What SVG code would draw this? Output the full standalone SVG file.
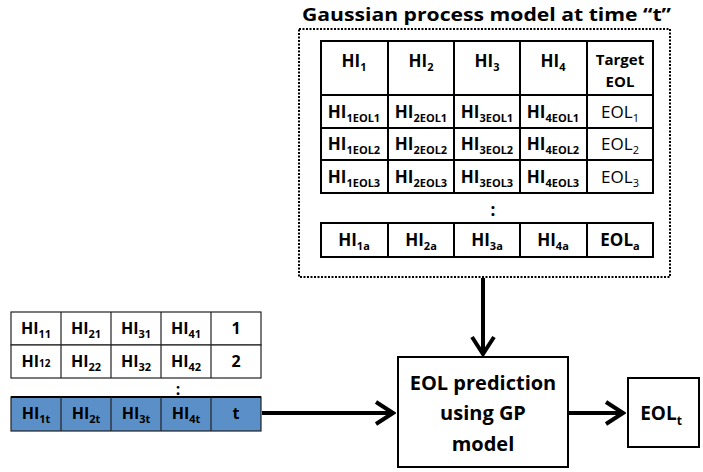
<svg xmlns="http://www.w3.org/2000/svg" width="703" height="472" viewBox="0 0 703 472">
<defs>
<style>
text{font-family:"Open Sans","Liberation Sans",sans-serif;fill:#000}
.b{font-weight:bold}
.c{font-size:17px;text-anchor:middle}
.d{font-size:16px;text-anchor:middle}
.s{font-size:11px}
.tb{fill:#fff;stroke:#000;stroke-width:2}
.ln{stroke:#000;stroke-width:2;fill:none}
.lt{fill:#fff;stroke:#222;stroke-width:1.2}
.bl{fill:#5b8fc7;stroke:#222;stroke-width:1.2}
.ar{stroke:#000;stroke-width:4;fill:none}
</style>
<marker id="ah" markerWidth="22" markerHeight="26" viewBox="0 0 22 26" refX="20" refY="13" orient="auto" markerUnits="userSpaceOnUse">
<path d="M2,2 L19,13 L2,24" fill="none" stroke="#000" stroke-width="4"/>
</marker>
</defs>
<g id="gp-model">
<text class="b" x="302" y="21" font-size="18" textLength="369" lengthAdjust="spacingAndGlyphs">Gaussian process model at time “t”</text>
<rect x="299" y="29" width="371" height="248" fill="none" stroke="#000" stroke-width="2" stroke-dasharray="2,1.5"/>
<rect class="tb" x="321" y="41" width="332" height="152"/>
<path class="ln" d="M321,95H653M321,128H653M321,160H653M388,41V193M454,41V193M520,41V193M587,41V193"/>
<g class="b c">
<text x="354" y="67">HI<tspan class="s" dy="4">1</tspan></text>
<text x="421" y="67">HI<tspan class="s" dy="4">2</tspan></text>
<text x="487" y="67">HI<tspan class="s" dy="4">3</tspan></text>
<text x="553" y="67">HI<tspan class="s" dy="4">4</tspan></text>
<text x="620" y="65" font-size="15">Target</text>
<text x="620" y="87" font-size="15">EOL</text>
<text x="354" y="118">HI<tspan class="s" dy="4">1EOL1</tspan></text>
<text x="421" y="118">HI<tspan class="s" dy="4">2EOL1</tspan></text>
<text x="487" y="118">HI<tspan class="s" dy="4">3EOL1</tspan></text>
<text x="553" y="118">HI<tspan class="s" dy="4">4EOL1</tspan></text>
<text x="354" y="150">HI<tspan class="s" dy="4">1EOL2</tspan></text>
<text x="421" y="150">HI<tspan class="s" dy="4">2EOL2</tspan></text>
<text x="487" y="150">HI<tspan class="s" dy="4">3EOL2</tspan></text>
<text x="553" y="150">HI<tspan class="s" dy="4">4EOL2</tspan></text>
<text x="354" y="183">HI<tspan class="s" dy="4">1EOL3</tspan></text>
<text x="421" y="183">HI<tspan class="s" dy="4">2EOL3</tspan></text>
<text x="487" y="183">HI<tspan class="s" dy="4">3EOL3</tspan></text>
<text x="553" y="183">HI<tspan class="s" dy="4">4EOL3</tspan></text>
</g>
<g class="c">
<text x="620" y="118">EOL<tspan class="s" dy="4">1</tspan></text>
<text x="620" y="150">EOL<tspan class="s" dy="4">2</tspan></text>
<text x="620" y="183">EOL<tspan class="s" dy="4">3</tspan></text>
</g>
<text class="b c" x="493" y="216">:</text>
<rect class="tb" x="321" y="223" width="332" height="34"/>
<path class="ln" d="M388,223V257M454,223V257M520,223V257M587,223V257"/>
<g class="b c">
<text x="354" y="246">HI<tspan class="s" dy="4">1a</tspan></text>
<text x="421" y="246">HI<tspan class="s" dy="4">2a</tspan></text>
<text x="487" y="246">HI<tspan class="s" dy="4">3a</tspan></text>
<text x="553" y="246">HI<tspan class="s" dy="4">4a</tspan></text>
<text x="620" y="246">EOL<tspan class="s" dy="4">a</tspan></text>
</g>
</g>
<g id="input-table">
<rect class="lt" x="11" y="312" width="250" height="33"/>
<rect class="lt" x="11" y="345" width="250" height="33"/>
<path d="M61,312V378M111,312V378M161,312V378M211,312V378" stroke="#222" stroke-width="1.2"/>
<g class="b d">
<text x="36" y="334">HI<tspan class="s" dy="4">11</tspan></text>
<text x="86" y="334">HI<tspan class="s" dy="4">21</tspan></text>
<text x="136" y="334">HI<tspan class="s" dy="4">31</tspan></text>
<text x="186" y="334">HI<tspan class="s" dy="4">41</tspan></text>
<text x="236" y="334">1</text>
<text x="36" y="367">HI<tspan font-size="10">12</tspan></text>
<text x="86" y="367">HI<tspan class="s" dy="4">22</tspan></text>
<text x="136" y="367">HI<tspan class="s" dy="4">32</tspan></text>
<text x="186" y="367">HI<tspan class="s" dy="4">42</tspan></text>
<text x="236" y="367">2</text>
<text x="178" y="395">:</text>
</g>
<rect class="bl" x="11" y="397" width="250" height="34"/>
<path d="M11,397H261" stroke="#000" stroke-width="2"/>
<path d="M61,397V431M111,397V431M161,397V431M211,397V431" stroke="#222" stroke-width="1.2"/>
<g class="b d">
<text x="36" y="419">HI<tspan class="s" dy="4">1t</tspan></text>
<text x="86" y="419">HI<tspan class="s" dy="4">2t</tspan></text>
<text x="136" y="419">HI<tspan class="s" dy="4">3t</tspan></text>
<text x="186" y="419">HI<tspan class="s" dy="4">4t</tspan></text>
<text x="236" y="419">t</text>
</g>
</g>
<g id="gp-predict">
<rect x="398" y="357" width="170" height="110" fill="#fff" stroke="#000" stroke-width="2"/>
<g class="b" font-size="20" text-anchor="middle">
<text x="483" y="390">EOL prediction</text>
<text x="483" y="420">using GP</text>
<text x="483" y="451">model</text>
</g>
</g>
<g id="eol-t">
<rect x="628" y="378" width="71" height="69" fill="#fff" stroke="#000" stroke-width="2"/>
<text class="b" x="661" y="420" font-size="19" text-anchor="middle">EOL<tspan font-size="12" dy="5">t</tspan></text>
</g>
<g id="connectors">
<path class="ar" d="M483,278V355" marker-end="url(#ah)"/>
<path class="ar" d="M262,413H394" marker-end="url(#ah)"/>
<path class="ar" d="M569,413H624" marker-end="url(#ah)"/>
</g>
</svg>
